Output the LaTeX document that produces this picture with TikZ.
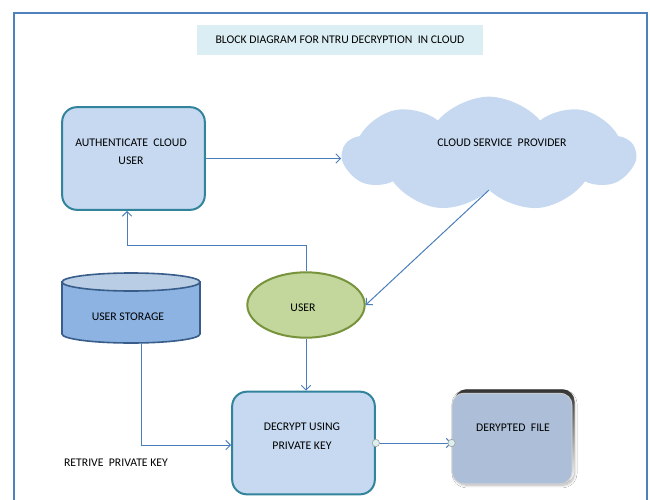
\documentclass[tikz,border=0pt]{standalone}
\usepackage{fontspec}
\setmainfont{Carlito}
\usetikzlibrary{shapes.symbols,shapes.geometric,arrows.meta,shadows.blur}
\definecolor{frameblue}{HTML}{4F81BD}
\definecolor{titlefill}{HTML}{DBEEF3}
\definecolor{boxfill}{HTML}{C6D9F1}
\definecolor{boxdraw}{HTML}{31849B}
\definecolor{arrowc}{HTML}{4A7EBB}
\definecolor{userfill}{HTML}{C3D69B}
\definecolor{userdraw}{HTML}{77933C}
\definecolor{cylfill}{HTML}{8DB3E2}
\definecolor{cyltop}{HTML}{B9CDE5}
\definecolor{cyldraw}{HTML}{385D8A}
\definecolor{filefill}{HTML}{ADBED8}
\definecolor{dotfill}{HTML}{DDF0F0}
\tikzset{
  procbox/.style={rectangle, rounded corners=11pt, fill=boxfill, draw=boxdraw, line width=1.5pt, minimum width=107pt, minimum height=77pt, inner sep=0pt},
  conn/.style={draw=arrowc, line width=0.75pt, -{Straight Barb[length=3.5pt,width=7pt]}},
  lbl/.style={inner sep=0pt, text=black},
  jdot/.style={circle, fill=dotfill, draw=gray!70, line width=0.5pt, minimum size=5.5pt, inner sep=0pt},
  cylline/.style={draw=cyldraw, line width=1.2pt},
}
\begin{document}
\begin{tikzpicture}[x=0.75pt, y=-0.75pt, font=\fontsize{8.8}{10.5}\selectfont]
\useasboundingbox (0,0) rectangle (650,500);
\clip (0,0) rectangle (650,500);
\fill[white] (0,0) rectangle (650,500);
% frame
\draw[frameblue, line width=1.6pt] (14,13) rectangle (647,520);
% title
\node[fill=titlefill, minimum width=214.5pt, minimum height=22.5pt, inner sep=0pt, text=black] (title) at (340,40) {BLOCK DIAGRAM FOR NTRU DECRYPTION\ \ IN CLOUD};
% authenticate box
\node[procbox] (auth) at (133.5,158.5) {};
\node[lbl] (autht1) at (131,143) {AUTHENTICATE\ \ CLOUD};
\node[lbl] (autht2) at (131,161) {USER};
% cloud
\node[cloud, cloud puffs=9, cloud puff arc=100, aspect=2.5, fill=boxfill, minimum width=219pt, minimum height=86pt, inner sep=0pt] (cloud) at (489,154) {};
\node[lbl] (cloudt) at (502,143) {CLOUD SERVICE\ \ PROVIDER};
% user
\node[ellipse, fill=userfill, draw=userdraw, line width=1.5pt, minimum width=88pt, minimum height=49pt, inner sep=0pt] (user) at (306,305) {};
\node[lbl] (usert) at (303,308) {USER};
% storage cylinder (drawn)
\node[rectangle, inner sep=0pt, minimum width=103.5pt, minimum height=52.5pt] (store) at (131,308) {};
\path[cylline, fill=cylfill] (62,282) -- (62,334) arc[start angle=180, end angle=360, x radius=51.75pt, y radius=6.75pt] -- (200,282) -- cycle;
\path[cylline, fill=cyltop] (131,282) ellipse [x radius=51.75pt, y radius=6.75pt];
\node[lbl] (storet) at (128,317) {USER STORAGE};
% decrypt box
\node[procbox] (dec) at (303.5,443) {};
\node[lbl] (dect1) at (302,427) {DECRYPT USING};
\node[lbl] (dect2) at (302,446) {PRIVATE KEY};
% decrypted file
\node[rectangle, rounded corners=9pt, top color=black!80, bottom color=white, minimum width=90pt, minimum height=70pt, inner sep=0pt, blur shadow={shadow xshift=0pt, shadow yshift=-2pt, shadow blur steps=8, shadow opacity=30}] (fileback) at (514.5,436) {};
\node[rectangle, rounded corners=9pt, fill=filefill, draw=gray!35, line width=0.6pt, minimum width=90pt, minimum height=68pt, inner sep=0pt] (file) at (512,438.5) {};
\node[lbl] (filet) at (513,428) {DERYPTED\ \ FILE};
% retrieve label
\node[lbl] (rettxt) at (116,463) {RETRIVE\ \ PRIVATE KEY};
% connectors
\draw[conn] (auth.east) -- (auth.east -| cloud.west);
\draw[conn] (cloud.south) -- (user.east);
\coordinate (k1) at (127,245);
\draw[conn] (user.north) |- (k1) -- (k1 |- auth.south);
\coordinate (k2) at (141,445);
\draw[conn] (k2 |- store.south) -- (k2) -- (k2 -| dec.west);
\draw[conn] (user.south) -- (user.south |- dec.north);
\draw[conn] (dec.east) -- (dec.east -| file.west);
\node[jdot] (d1) at (dec.east) {};
\node[jdot] (d2) at (dec.east -| file.west) {};
\end{tikzpicture}
\end{document}
